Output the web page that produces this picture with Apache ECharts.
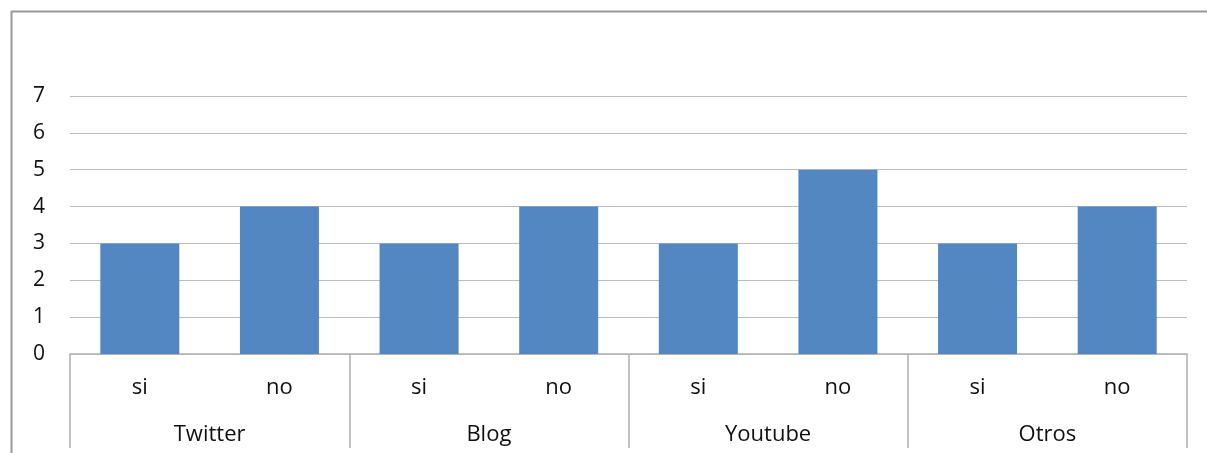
<!DOCTYPE html>
<html>
<head>
<meta charset="utf-8">
<script src="https://cdn.jsdelivr.net/npm/echarts@6/dist/echarts.min.js"></script>
<style>html,body{margin:0;padding:0;background:#fff}#c{width:1207px;height:453px}</style>
</head>
<body>
<div id="c"></div>
<script>
var groups = ['Twitter', 'Blog', 'Youtube', 'Otros'];
var subLabels = ['si', 'no'];
var values = [3, 4, 3, 4, 3, 5, 3, 4];
var yTicks = [0, 1, 2, 3, 4, 5, 6, 7];

var cats = [];
groups.forEach(function (g) { subLabels.forEach(function (s) { cats.push(s); }); });

var font = 'Open Sans';
var chart = echarts.init(document.getElementById('c'));
chart.setOption({
  animation: false,
  graphic: [
    { type: 'line', shape: { x1: 11, y1: 11.5, x2: 1207, y2: 11.5 }, style: { stroke: '#999', lineWidth: 2 } },
    { type: 'line', shape: { x1: 11.5, y1: 11, x2: 11.5, y2: 453 }, style: { stroke: '#999', lineWidth: 2 } }
  ],
  grid: { left: 70, right: 20, top: 96, bottom: 99 },
  xAxis: [
    {
      type: 'category', data: cats, position: 'bottom',
      axisLine: { show: true, lineStyle: { color: '#b0b0b0', width: 1.5 } },
      axisTick: { show: false },
      axisLabel: { color: '#111', fontFamily: font, fontSize: 22, margin: 23, interval: 0 }
    },
    {
      type: 'category', data: groups, position: 'bottom', offset: 0,
      axisLine: { show: false },
      axisTick: { show: true, length: 94, lineStyle: { color: '#b0b0b0', width: 1.5 } },
      axisLabel: { color: '#111', fontFamily: font, fontSize: 22, margin: 70, interval: 0 }
    }
  ],
  yAxis: {
    type: 'value', min: yTicks[0], max: yTicks[yTicks.length - 1], interval: 1,
    axisLine: { show: false }, axisTick: { show: false },
    splitLine: { lineStyle: { color: '#bdbdbd', width: 1.2 } },
    axisLabel: { color: '#111', fontFamily: font, fontSize: 21, margin: 25 }
  },
  series: [{
    type: 'bar', data: values, xAxisIndex: 0, barWidth: 79,
    itemStyle: { color: '#5387C2' }
  }]
});
</script>
</body>
</html>
